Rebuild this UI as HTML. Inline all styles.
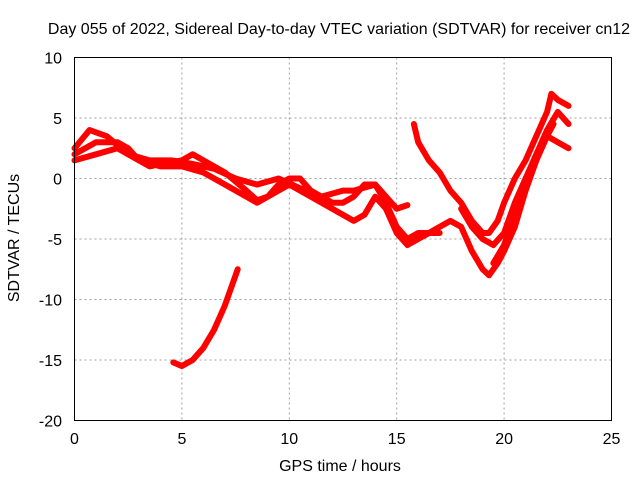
<!DOCTYPE html>
<html><head><meta charset="utf-8"><style>
body{margin:0;background:#fff}
svg text{font-family:"Liberation Sans",sans-serif;font-size:16px;fill:#000}
</style></head><body>
<svg width="640" height="480" xmlns="http://www.w3.org/2000/svg">
<rect width="640" height="480" fill="#fff"/>
<text x="339" y="34" text-anchor="middle">Day 055 of 2022, Sidereal Day-to-day VTEC variation (SDTVAR) for receiver cn12</text>
<g id="grid"></g>
<g id="ticks"></g>
<g id="series"></g>
<rect x="74.5" y="57.5" width="537" height="363" fill="none" stroke="#000"/>
<text x="340" y="471" text-anchor="middle">GPS time / hours</text>
<text transform="translate(19,238) rotate(-90)" text-anchor="middle">SDTVAR / TECUs</text>
</svg>
<script>
const xTicks=[0,5,10,15,20,25];
const yTicks=[10,5,0,-5,-10,-15,-20];
const trackA=[[0,2],[0.5,2.5],[1,3],[2,3],[2.5,2.5],[3,1.5],[3.5,1],[4,1.2],[5,1.5],[5.5,2],[6,1.5],[7,0.5],[8,-1],[8.5,-1.8],[9,-1.5],[9.5,-0.5],[10,0],[10.5,0],[11,-1],[12,-2],[12.5,-2],[13,-1.5],[13.5,-0.5],[14,-0.5],[14.5,-2],[15,-4],[15.5,-5],[16,-4.5],[16.5,-4.5],[17,-4],[17.5,-3.5],[18,-4],[18.5,-6],[19,-7.5],[19.3,-8],[19.7,-7],[20,-6],[20.5,-4],[21,-1],[21.5,1.5],[22,3.5],[22.3,4.5]];
const trackB=[[0,1.5],[1,2],[2,2.5],[3,1.5],[4,1],[5,1],[6,0.5],[7,-0.5],[8,-1.5],[8.5,-2],[9,-1.5],[10,-0.5],[11,-1.5],[12,-2.5],[13,-3.5],[13.5,-3],[14,-1.5],[14.5,-2.5],[15,-4.5],[15.5,-5.5],[16,-5],[16.5,-4.5],[17,-4.5]];
const trackC=[[0,2.5],[0.7,4],[1.5,3.5],[2.5,2],[3.5,1.5],[4.5,1.5],[5.5,1.2],[6.5,0.8],[7.5,0],[8.5,-0.5],[9.5,0],[10.5,-0.8],[11.5,-1.5],[12.5,-1],[13,-1],[14,-0.5],[14.5,-1.5],[15,-2.5],[15.5,-2.2]];
const trackD=[[4.6,-15.2],[5,-15.5],[5.5,-15],[6,-14],[6.5,-12.5],[7,-10.5],[7.5,-8],[7.6,-7.5]];
const trackE=[[15.8,4.5],[16,3],[16.5,1.5],[17,0.5],[17.5,-1],[18,-2],[18.5,-3.5],[19,-4.5],[19.3,-4.5],[19.7,-3.5],[20,-2],[20.5,0],[21,1.5],[21.5,3.5],[22,5.5],[22.2,7],[22.5,6.5],[23,6]];
const trackF=[[18,-2.5],[18.5,-4],[19,-5],[19.5,-5.5],[20,-4.5],[20.5,-2],[21,0],[21.5,2],[22,3.5],[22.5,3],[23,2.5]];
const trackG=[[19.5,-7],[20,-5.5],[20.5,-3],[21,-0.5],[21.5,2],[22,4],[22.5,5.5],[23,4.5]];
const NS="http://www.w3.org/2000/svg";
const X=v=>74.5+v/25*537, Y=v=>57.5+(10-v)/30*363;
const grid=document.getElementById('grid'),ticks=document.getElementById('ticks'),ser=document.getElementById('series');
function mk(t,a,p){const e=document.createElementNS(NS,t);for(const k in a)e.setAttribute(k,a[k]);p.appendChild(e);return e;}
xTicks.forEach(t=>{
 if(t>0&&t<25){const l=mk('line',{x1:X(t),x2:X(t),y1:57.5,y2:420.5,stroke:'#a0a0a0','stroke-dasharray':'2,3'},grid);
 
 }
 const tx=mk('text',{x:X(t),y:444,'text-anchor':'middle'},ticks);tx.textContent=t;
 
 
});
yTicks.forEach(t=>{
 if(t>-20&&t<10){const l=mk('line',{x1:74.5,x2:611.5,y1:Y(t),y2:Y(t),stroke:'#a0a0a0','stroke-dasharray':'2,3'},grid);
 
 }
 const tx=mk('text',{x:62,y:Y(t)+6,'text-anchor':'end'},ticks);tx.textContent=t;
 
 
});
[trackA,trackB,trackC,trackD,trackE,trackF,trackG].forEach((tr,i)=>{
 const p=mk('polyline',{points:tr.map(d=>X(d[0])+','+Y(d[1])).join(' '),fill:'none',stroke:'#ff0000','stroke-width':6,'stroke-linejoin':'round','stroke-linecap':'round'},ser);
 
 
});
</script>
</body></html>
